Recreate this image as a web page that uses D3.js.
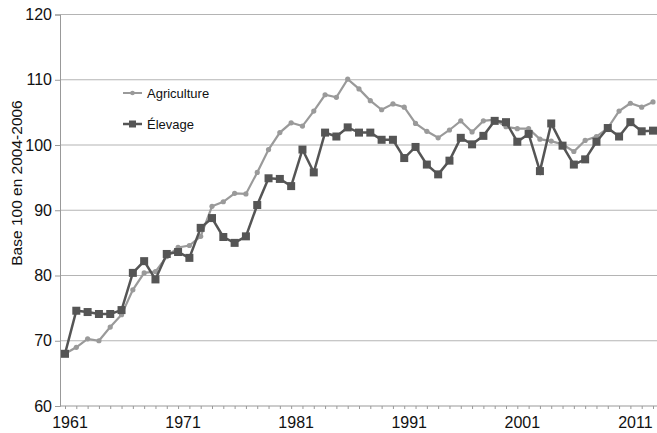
<!DOCTYPE html>
<html><head><meta charset="utf-8">
<script src="https://cdn.jsdelivr.net/npm/d3@7"></script>
<style>body{margin:0;background:#fff}svg{display:block;font-family:"Liberation Sans",Arial,Helvetica,sans-serif}</style>
</head><body><svg id="c" width="657" height="433"></svg>
<script>
const years = d3.range(1961, 2014);
const agriculture = [68.0,69.0,70.3,70.0,72.1,74.0,77.8,80.4,80.6,82.9,84.3,84.6,86.0,90.6,91.3,92.6,92.5,95.8,99.3,101.9,103.4,102.9,105.2,107.7,107.3,110.1,108.6,106.8,105.4,106.3,105.8,103.3,102.1,101.1,102.3,103.7,102.0,103.7,103.9,102.8,102.5,102.5,100.9,100.6,100.1,99.0,100.7,101.3,102.6,105.2,106.4,105.8,106.6];
const elevage = [68.0,74.6,74.4,74.1,74.1,74.7,80.4,82.2,79.4,83.3,83.6,82.7,87.3,88.8,85.9,85.0,86.0,90.8,94.9,94.8,93.7,99.3,95.8,101.9,101.3,102.7,101.9,101.9,100.8,100.8,98.0,99.7,97.0,95.5,97.6,101.1,100.1,101.4,103.7,103.5,100.5,101.7,96.0,103.3,99.9,97.0,97.8,100.5,102.6,101.3,103.5,102.1,102.2];
const yTicks = [60,70,80,90,100,110,120];
const xLabels = [1961,1971,1981,1991,2001,2011];
const seriesNames = ["Agriculture","Élevage"];

const svg = d3.select("#c");
const x = d3.scaleLinear().domain([1961,2013]).range([65,653]);
const y = d3.scaleLinear().domain([60,120]).range([406,14.5]);
const L = 60, R = 657;

// gridlines
svg.append("g").selectAll("line").data(yTicks.slice(1)).join("line")
  .attr("x1",L).attr("x2",R).attr("y1",d=>y(d)).attr("y2",d=>y(d))
  .attr("stroke","#b4b4b4").attr("stroke-width",1.2);

// y axis
const ya = svg.append("g").attr("transform",`translate(${L},0)`)
  .call(d3.axisLeft(y).tickValues(yTicks).tickSize(5).tickPadding(3));
ya.select(".domain").attr("stroke","#999");
ya.selectAll(".tick line").attr("stroke","#999");
ya.selectAll("text").attr("font-size",16).attr("fill","#111").attr("font-family","inherit");

// x axis
const xa = svg.append("g").attr("transform",`translate(0,${y(60)})`)
  .call(d3.axisBottom(x).tickValues(years).tickSize(3).tickFormat(""));
xa.select(".domain").attr("d",`M${L},0H${R}`).attr("stroke","#999");
xa.selectAll(".tick line").attr("stroke","#999");
svg.append("g").selectAll("text").data(xLabels).join("text")
  .attr("x",d=>x(d)+5).attr("y",y(60)+22).attr("text-anchor","middle")
  .attr("font-size",16).attr("fill","#111").text(d=>d);

// y title
svg.append("text").attr("transform","translate(22,183) rotate(-90)")
  .attr("text-anchor","middle").attr("font-size",15.5).attr("fill","#111")
  .text("Base 100 en 2004-2006");

const line = d3.line().x((d,i)=>x(years[i])).y(d=>y(d));

// agriculture
svg.append("path").datum(agriculture).attr("d",line).attr("fill","none")
  .attr("stroke","#9a9a9a").attr("stroke-width",2.2);
svg.append("g").selectAll("circle").data(agriculture).join("circle")
  .attr("cx",(d,i)=>x(years[i])).attr("cy",d=>y(d)).attr("r",2.6).attr("fill","#9a9a9a");

// elevage
svg.append("path").datum(elevage).attr("d",line).attr("fill","none")
  .attr("stroke","#555").attr("stroke-width",2.5);
svg.append("g").selectAll("rect").data(elevage).join("rect")
  .attr("x",(d,i)=>x(years[i])-4).attr("y",d=>y(d)-4).attr("width",8).attr("height",8).attr("fill","#555");

// legend
const lg = svg.append("g");
const ly = [93,124];
lg.append("line").attr("x1",123).attr("x2",142).attr("y1",ly[0]).attr("y2",ly[0]).attr("stroke","#9a9a9a").attr("stroke-width",2);
lg.append("circle").attr("cx",132.5).attr("cy",ly[0]).attr("r",2.3).attr("fill","#9a9a9a");
lg.append("line").attr("x1",123).attr("x2",142).attr("y1",ly[1]).attr("y2",ly[1]).attr("stroke","#555").attr("stroke-width",2.5);
lg.append("rect").attr("x",129).attr("y",ly[1]-3.5).attr("width",7).attr("height",7).attr("fill","#555");
lg.selectAll("text").data(seriesNames).join("text")
  .attr("x",147).attr("y",(d,i)=>ly[i]+4.5).attr("font-size",13).attr("fill","#111").text(d=>d);
</script></body></html>
